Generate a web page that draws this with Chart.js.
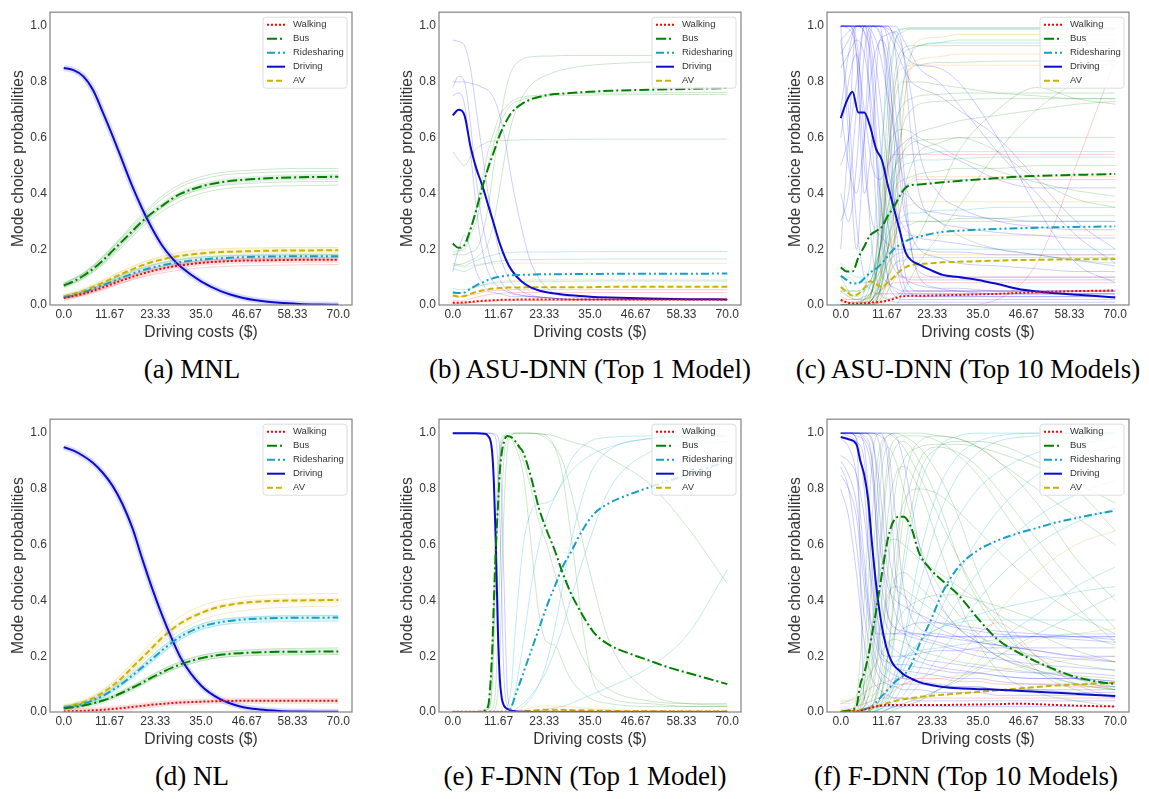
<!DOCTYPE html>
<html>
<head>
<meta charset="utf-8">
<script src="https://cdn.jsdelivr.net/npm/chart.js@4.4.1/dist/chart.umd.min.js"></script>
<style>
  body { margin: 0; background: #fff; width: 1149px; height: 799px; position: relative; overflow: hidden; }
  .panel { position: absolute; }
  .cap { position: absolute; width: 420px; text-align: center; font-family: "Liberation Serif", "DejaVu Serif", serif; font-size: 27px; line-height: 30px; color: #000; white-space: nowrap; }
</style>
</head>
<body>
<div class="panel" style="left:9px;top:2px"><canvas id="ca" width="351" height="340"></canvas></div>
<div class="panel" style="left:398px;top:2px"><canvas id="cb" width="351" height="340"></canvas></div>
<div class="panel" style="left:786px;top:2px"><canvas id="cc" width="351" height="340"></canvas></div>
<div class="panel" style="left:9px;top:409px"><canvas id="cd" width="351" height="340"></canvas></div>
<div class="panel" style="left:398px;top:409px"><canvas id="ce" width="351" height="340"></canvas></div>
<div class="panel" style="left:786px;top:409px"><canvas id="cf" width="351" height="340"></canvas></div>

<div class="cap" style="left:-18px;top:354px">(a) MNL</div>
<div class="cap" style="left:380px;top:354px">(b) ASU-DNN (Top 1 Model)</div>
<div class="cap" style="left:758px;top:354px">(c) ASU-DNN (Top 10 Models)</div>
<div class="cap" style="left:-18px;top:761px">(d) NL</div>
<div class="cap" style="left:375px;top:761px">(e) F-DNN (Top 1 Model)</div>
<div class="cap" style="left:756px;top:761px">(f) F-DNN (Top 10 Models)</div>

<script>
const modes = ['Walking', 'Bus', 'Ridesharing', 'Driving', 'AV'];
const xTickValues = [0, 11.67, 23.33, 35, 46.67, 58.33, 70];
const xTickLabels = ['0.0', '11.67', '23.33', '35.0', '46.67', '58.33', '70.0'];
const yTickValues = [0, 0.2, 0.4, 0.6, 0.8, 1.0];
const yTickLabels = ['0.0', '0.2', '0.4', '0.6', '0.8', '1.0'];

// (a) MNL
const aX = [0, 2.5, 5, 7.5, 10, 12.5, 15, 17.5, 20, 22.5, 25, 27.5, 30, 35, 40, 45, 50, 55, 60, 65, 70];
const aWalking = [.025, .032, .04, .051, .063, .076, .089, .101, .112, .122, .13, .137, .143, .151, .156, .159, .16, .161, .162, .162, .162];
const aBus = [.07, .085, .105, .13, .16, .195, .23, .265, .30, .33, .355, .38, .40, .425, .44, .448, .453, .456, .458, .459, .46];
const aRide = [.027, .035, .045, .058, .071, .085, .099, .112, .124, .134, .142, .149, .155, .163, .168, .171, .173, .174, .175, .175, .175];
const aDriving = [.85, .842, .82, .77, .69, .605, .515, .425, .345, .275, .215, .17, .135, .085, .05, .028, .015, .008, .004, .002, .001];
const aAV = [.03, .04, .05, .065, .08, .097, .113, .128, .142, .154, .163, .171, .177, .185, .19, .192, .194, .195, .195, .196, .196];
const aFaintX = [0, 5, 10, 15, 20, 25, 30, 35, 40, 50, 60, 70];
const aFaintBus = [
  [.078, .115, .175, .25, .325, .39, .435, .46, .475, .485, .49, .49],
  [.075, .112, .17, .245, .318, .38, .425, .45, .465, .475, .478, .48],
  [.066, .10, .15, .22, .29, .35, .39, .415, .428, .438, .442, .443],
  [.063, .095, .145, .21, .28, .335, .375, .40, .415, .425, .428, .43]
];
const aFaintAV = [
  [.033, .055, .088, .123, .153, .175, .19, .198, .202, .205, .206, .206],
  [.027, .045, .073, .103, .13, .15, .163, .17, .175, .178, .18, .18]
];
const aFaintRide = [
  [.029, .048, .077, .108, .134, .152, .165, .172, .176, .179, .18, .18],
  [.025, .042, .066, .092, .115, .132, .145, .152, .157, .16, .162, .163]
];
const aFaintWalking = [
  [.027, .043, .068, .096, .12, .138, .15, .158, .163, .167, .169, .17],
  [.022, .036, .057, .08, .10, .115, .126, .133, .138, .142, .144, .145]
];

// (b) ASU-DNN top 1
const bX = [0, 1.5, 3, 4.5, 6, 7.5, 9, 10.5, 12, 13.5, 15, 17.5, 20, 22.5, 25, 30, 35, 40, 50, 60, 70];
const bWalking = [.008, .008, .009, .011, .013, .015, .016, .017, .018, .019, .019, .02, .02, .02, .02, .02, .02, .02, .02, .02, .02];
const bBus = [.22, .205, .215, .27, .34, .42, .49, .55, .61, .655, .69, .72, .738, .748, .755, .76, .765, .768, .772, .775, .778];
const bRide = [.045, .043, .045, .058, .07, .08, .09, .097, .102, .105, .107, .108, .109, .11, .11, .111, .111, .112, .112, .112, .113];
const bDriving = [.68, .70, .68, .57, .49, .43, .36, .29, .22, .165, .125, .085, .062, .05, .043, .035, .03, .027, .023, .021, .02];
const bAV = [.035, .03, .032, .04, .047, .052, .056, .059, .061, .062, .063, .063, .064, .064, .064, .064, .064, .065, .065, .065, .065];
const bFaintX = [0, 1.5, 3, 4.5, 6, 7.5, 9, 10.5, 12, 13.5, 15, 17.5, 20, 25, 30, 40, 70];
const bFaintDriving = [
  [.95, .945, .93, .85, .70, .55, .40, .28, .18, .12, .08, .05, .035, .025, .02, .02, .02],
  [.78, .82, .80, .65, .45, .30, .20, .13, .09, .06, .045, .035, .03, .025, .02, .02, .02],
  [.80, .80, .80, .795, .79, .78, .77, .74, .68, .58, .45, .28, .15, .05, .03, .02, .02],
  [.75, .76, .72, .55, .35, .20, .12, .08, .06, .05, .04, .035, .03, .025, .02, .02, .02],
  [.12, .20, .25, .20, .12, .08, .05, .045, .04, .035, .03, .03, .03, .025, .02, .02, .02]
];
const bFaintBus = [
  [.55, .52, .50, .53, .56, .575, .585, .588, .59, .59, .591, .592, .593, .594, .594, .595, .595],
  [.18, .18, .18, .19, .20, .25, .35, .50, .65, .77, .84, .88, .89, .893, .895, .895, .895],
  [.14, .145, .15, .16, .17, .19, .22, .30, .42, .55, .65, .74, .79, .83, .85, .865, .875],
  [.19, .195, .20, .25, .30, .40, .50, .58, .65, .69, .72, .735, .745, .75, .752, .754, .755],
  [.18, .19, .22, .28, .35, .45, .55, .62, .68, .71, .73, .745, .75, .755, .758, .76, .762]
];
const bFaintRide = [
  [.15, .145, .14, .15, .16, .168, .175, .18, .185, .187, .188, .19, .19, .19, .191, .192, .192],
  [.13, .125, .12, .13, .14, .145, .15, .155, .158, .16, .162, .163, .163, .164, .164, .165, .165],
  [.06, .055, .055, .06, .065, .07, .075, .078, .08, .082, .083, .084, .085, .085, .085, .086, .086]
];
const bFaintAV = [
  [.145, .14, .135, .14, .145, .148, .15, .15, .15, .15, .15, .15, .15, .15, .15, .15, .15],
  [.05, .045, .045, .055, .065, .072, .078, .082, .085, .087, .088, .089, .09, .09, .09, .09, .09]
];
const bFaintWalking = [
  [.015, .015, .017, .022, .028, .033, .037, .04, .042, .043, .044, .045, .045, .045, .045, .045, .045],
  [.005, .005, .006, .008, .01, .012, .013, .014, .015, .015, .015, .016, .016, .016, .016, .016, .016],
  [.03, .03, .032, .036, .04, .045, .05, .052, .053, .054, .055, .055, .055, .055, .055, .055, .055]
];

// (c) ASU-DNN top 10
const cX = [0, 1.5, 3, 4.5, 6, 7.5, 9, 10.5, 12, 13.5, 15, 16.5, 18, 20, 23, 26, 30, 35, 40, 45, 50, 55, 60, 65, 70];
const cWalking = [.018, .01, .005, .005, .006, .008, .01, .012, .016, .022, .03, .032, .033, .033, .034, .035, .036, .038, .04, .043, .046, .048, .05, .051, .052];
const cBus = [.135, .12, .12, .17, .21, .25, .265, .28, .32, .35, .39, .42, .43, .432, .436, .44, .445, .45, .455, .46, .463, .465, .467, .468, .47];
const cRide = [.105, .09, .077, .078, .095, .117, .13, .15, .175, .20, .215, .228, .238, .245, .255, .262, .266, .27, .273, .275, .277, .279, .28, .281, .282];
const cDriving = [.67, .73, .765, .69, .69, .64, .56, .52, .43, .35, .27, .19, .16, .145, .125, .108, .10, .09, .075, .058, .048, .042, .037, .032, .027];
const cAV = [.065, .048, .033, .04, .06, .085, .075, .065, .08, .10, .12, .135, .143, .147, .15, .153, .155, .157, .159, .161, .162, .163, .164, .164, .165];
const cFaintX = [0, 2, 4, 6, 8, 10, 12, 14, 16, 18, 20, 25, 30, 40, 50, 60, 70];
const cFaintDriving = [
  [1, 1, .95, .6, .2, .05, .02, .01, .01, .01, .01, .01, .01, .01, .01, .01, .01],
  [1, 1, 1, .98, .85, .4, .1, .03, .02, .02, .02, .02, .02, .02, .02, .02, .02],
  [1, 1, 1, 1, 1, .98, .8, .3, .08, .04, .03, .03, .03, .03, .03, .03, .03],
  [.95, .7, .3, .1, .05, .04, .04, .04, .04, .04, .04, .04, .04, .04, .04, .04, .04],
  [.85, .9, .95, .9, .7, .4, .2, .12, .1, .09, .09, .09, .09, .09, .09, .09, .09],
  [1, 1, 1, 1, 1, 1, 1, .95, .9, .87, .86, .85, .8, .6, .35, .15, .08],
  [.6, .8, .9, .7, .5, .45, .5, .55, .58, .6, .58, .55, .52, .45, .42, .42, .42],
  [1, 1, 1, 1, .9, .6, .3, .15, .1, .08, .07, .06, .06, .05, .05, .05, .05],
  [.7, .9, 1, 1, 1, 1, .95, .7, .4, .2, .1, .06, .05, .04, .04, .04, .04],
  [1, .99, .9, .5, .3, .25, .22, .2, .2, .2, .2, .19, .19, .18, .18, .18, .18],
  [.5, .6, .8, 1, 1, 1, 1, 1, .95, .9, .85, .8, .72, .55, .4, .25, .15],
  [1, 1, 1, 1, 1, 1, .99, .97, .9, .75, .55, .4, .35, .3, .28, .27, .27],
  [.3, .4, .7, 1, 1, .97, .85, .6, .35, .25, .2, .17, .15, .14, .13, .12, .12],
  [.9, .95, 1, 1, .98, .9, .75, .6, .45, .38, .35, .33, .32, .31, .3, .3, .3],
  [1, .6, .2, .6, 1, 1, .7, .2, .05, .03, .03, .03, .03, .03, .03, .03, .03],
  [.2, .6, 1, 1, .8, .3, .1, .05, .04, .04, .04, .04, .04, .04, .04, .04, .04],
  [1, 1, .9, .4, .6, .95, .9, .5, .15, .06, .05, .05, .05, .05, .05, .05, .05],
  [.4, .3, .5, .9, 1, 1, 1, .9, .5, .2, .12, .1, .1, .1, .1, .1, .1],
  [1, 1, 1, 1, .95, .75, .5, .35, .28, .25, .24, .23, .22, .2, .18, .16, .14],
  [.95, .98, 1, .98, .6, .15, .08, .06, .05, .05, .05, .05, .05, .05, .05, .05, .05],
  [.7, .5, .4, .6, .85, .95, .97, .98, .9, .6, .4, .3, .28, .26, .25, .24, .24],
  [1, 1, 1, 1, 1, 1, .98, .92, .85, .8, .78, .75, .7, .6, .45, .3, .2]
];
const cFaintBus = [
  [0, 0, 0, .02, .1, .3, .7, .95, .99, .995, .995, .995, .995, .995, .995, .995, .995],
  [.05, .03, .02, .03, .05, .2, .5, .8, .9, .92, .93, .94, .95, .95, .95, .95, .95],
  [0, 0, .01, .02, .05, .2, .45, .65, .72, .74, .75, .755, .76, .76, .76, .76, .76],
  [.1, .05, .03, .05, .1, .2, .35, .5, .55, .58, .59, .595, .6, .6, .6, .6, .6],
  [0, 0, 0, 0, .02, .1, .3, .42, .45, .46, .47, .48, .49, .49, .5, .5, .5],
  [0, 0, 0, 0, 0, .05, .2, .4, .55, .6, .62, .64, .66, .68, .7, .72, .73],
  [0, 0, 0, 0, .01, .05, .15, .25, .28, .29, .3, .3, .31, .31, .32, .32, .32],
  [.02, .01, .01, .01, .02, .08, .3, .6, .8, .85, .86, .87, .87, .875, .875, .875, .875],
  [0, 0, 0, 0, 0, 0, 0, 0, .05, .1, .15, .25, .35, .55, .7, .8, .88],
  [0, 0, 0, 0, .05, .3, .55, .62, .63, .62, .6, .57, .53, .48, .44, .41, .39],
  [0, 0, 0, 0, 0, .05, .2, .35, .4, .38, .35, .3, .25, .2, .18, .16, .15],
  [0, 0, 0, .01, .05, .4, .9, .98, .99, .99, .99, .99, .99, .99, .99, .99, .99],
  [0, 0, 0, 0, .02, .15, .5, .75, .8, .8, .8, .79, .78, .76, .75, .74, .74],
  [0, 0, 0, 0, 0, .02, .1, .25, .4, .5, .55, .58, .6, .55, .45, .38, .35],
  [0, 0, 0, 0, .02, .08, .25, .5, .65, .7, .72, .73, .735, .74, .74, .74, .74],
  [0, 0, 0, .01, .05, .2, .6, .85, .92, .93, .93, .93, .93, .93, .93, .93, .93],
  [.05, .05, .05, .06, .08, .12, .2, .27, .3, .3, .3, .3, .3, .3, .3, .3, .3],
  [0, 0, 0, 0, 0, .01, .05, .1, .15, .2, .25, .4, .55, .7, .78, .74, .72]
];
const cFaintRide = [
  [0, 0, 0, .05, .2, .5, .8, .95, .98, .99, .99, .99, .99, .99, .99, .99, .99],
  [.1, .1, .08, .08, .1, .2, .35, .45, .5, .51, .52, .52, .525, .53, .53, .53, .53],
  [.05, .05, .05, .05, .08, .15, .25, .3, .32, .33, .33, .34, .34, .35, .35, .35, .35],
  [0, 0, 0, 0, .02, .08, .15, .18, .19, .2, .2, .2, .2, .2, .2, .2, .2],
  [0, 0, 0, 0, 0, .05, .2, .5, .8, .9, .93, .94, .94, .94, .94, .94, .94],
  [.15, .12, .1, .1, .12, .2, .3, .38, .42, .44, .45, .45, .45, .45, .45, .45, .45],
  [0, 0, 0, 0, .01, .04, .1, .15, .16, .17, .17, .17, .17, .17, .17, .17, .17],
  [0, 0, 0, .02, .06, .2, .4, .5, .53, .54, .54, .55, .55, .55, .55, .55, .55]
];
const cFaintAV = [
  [0, 0, 0, 0, 0, .1, .5, .8, .85, .86, .86, .86, .86, .86, .86, .86, .86],
  [.05, .03, .02, .02, .05, .1, .2, .3, .35, .36, .37, .37, .37, .37, .37, .37, .37],
  [0, 0, 0, 0, .02, .05, .1, .15, .17, .18, .18, .18, .18, .18, .18, .18, .18],
  [0, 0, 0, 0, 0, .02, .1, .4, .7, .9, .95, .96, .97, .97, .97, .97, .97],
  [.02, .02, .02, .03, .05, .1, .2, .24, .25, .25, .25, .25, .25, .25, .25, .25, .25],
  [0, 0, 0, 0, .01, .03, .1, .25, .4, .45, .46, .46, .46, .46, .46, .46, .46],
  [0, 0, 0, 0, 0, 0, .05, .3, .7, .85, .88, .89, .9, .9, .9, .9, .9]
];
const cFaintWalking = [
  [0, 0, 0, 0, 0, .01, .02, .03, .05, .05, .05, .05, .05, .05, .05, .05, .05],
  [0, 0, 0, 0, 0, 0, 0, 0, 0, 0, 0, 0, 0, .02, .15, .5, .88],
  [0, 0, 0, .02, .05, .2, .5, .54, .54, .54, .54, .54, .54, .54, .54, .54, .54],
  [.01, .01, .01, .01, .02, .05, .08, .1, .1, .1, .1, .1, .1, .1, .1, .1, .1],
  [.03, .02, .02, .02, .03, .05, .07, .08, .08, .08, .08, .08, .08, .08, .08, .08, .08]
];

// (d) NL
const dX = aX;
const dWalking = [.002, .003, .004, .006, .008, .011, .014, .018, .022, .026, .029, .032, .034, .037, .039, .04, .04, .04, .04, .04, .04];
const dBus = [.013, .017, .023, .031, .041, .054, .07, .087, .105, .124, .142, .158, .172, .193, .205, .211, .214, .216, .216, .217, .217];
const dRide = [.015, .021, .03, .042, .058, .079, .103, .131, .16, .19, .22, .248, .272, .305, .322, .331, .335, .337, .338, .338, .339];
const dDriving = [.95, .937, .918, .893, .857, .81, .745, .66, .55, .445, .35, .265, .19, .095, .045, .02, .009, .004, .002, .001, .0005];
const dAV = [.018, .025, .035, .05, .07, .095, .125, .16, .195, .23, .265, .295, .32, .355, .378, .39, .396, .399, .40, .401, .402];
const dFaintX = aFaintX;
const dFaintAV = [
  [.02, .04, .078, .14, .215, .29, .345, .38, .40, .418, .423, .425],
  [.016, .032, .064, .115, .18, .245, .295, .33, .35, .37, .377, .38]
];
const dFaintRide = [
  [.016, .032, .06, .108, .168, .232, .282, .315, .332, .342, .345, .346],
  [.014, .028, .054, .098, .152, .21, .262, .295, .312, .322, .325, .326]
];
const dFaintBus = [
  [.014, .025, .044, .074, .112, .152, .182, .203, .215, .225, .228, .23],
  [.012, .021, .038, .066, .10, .135, .163, .183, .195, .203, .205, .206]
];

// (e) F-DNN top 1
const eX = [0, 2, 4, 6, 8, 9, 10, 10.5, 11, 11.5, 12, 12.5, 13, 13.5, 14, 15, 16, 17, 18, 20, 22, 24, 26, 28, 30, 33, 36, 40, 45, 50, 55, 60, 65, 70];
const eWalking = [.001, .001, .001, .001, .001, .001, .001, .001, .001, .001, .001, .001, .001, .001, .001, .001, .001,
  .001, .001, .001, .001, .001, .001, .001, .001, .001, .001, .001, .001, .001, .001, .001, .001, .001];
const eBus = [0, 0, 0, 0, .005, .02, .2, .4, .59, .73, .86, .93, .965, .985, .99, .985, .97, .95, .93, .84,
  .73, .65, .58, .5, .43, .35, .285, .24, .21, .185, .16, .14, .12, .10];
const eRide = [0, 0, 0, 0, 0, 0, 0, 0, 0, 0, 0, 0, 0, 0, 0, .02, .06, .1, .14, .22,
  .3, .38, .45, .52, .57, .65, .71, .75, .78, .805, .83, .85, .875, .90];
const eDriving = [1, 1, 1, 1, .998, .99, .94, .82, .6, .3, .12, .05, .025, .015, .01, .005, .003, .001, .001, 0,
  0, 0, 0, 0, 0, 0, 0, 0, 0, 0, 0, 0, 0, 0];
const eAV = [0, 0, 0, 0, 0, 0, 0, 0, 0, 0, 0, 0, 0, 0, 0, 0, 0, 0, .002, .005,
  .007, .008, .008, .008, .007, .006, .005, .004, .003, .003, .002, .002, .002, .002];
const eFaintX = [0, 6, 9, 10, 11, 12, 13, 14, 15, 16, 18, 20, 22, 24, 26, 28, 30, 35, 40, 50, 60, 70];
const eFaintDriving = [
  [1, 1, 1, .998, .98, .7, .15, .02, .005, 0, 0, 0, 0, 0, 0, 0, 0, 0, 0, 0, 0, 0],
  [1, 1, 1, 1, .995, .95, .5, .06, .01, 0, 0, 0, 0, 0, 0, 0, 0, 0, 0, 0, 0, 0]
];
const eFaintBus = [
  [0, 0, .01, .1, .55, .9, .985, .998, 1, 1, 1, .999, .998, .995, .99, .98, .97, .95, .91, .82, .66, .46],
  [0, 0, 0, .01, .1, .5, .9, .98, .995, 1, 1, 1, .998, .99, .95, .85, .65, .15, .05, .03, .02, .02],
  [0, 0, .02, .2, .7, .95, .99, .99, .98, .95, .85, .6, .35, .25, .24, .18, .12, .05, .03, .02, .02, .02],
  [0, 0, .01, .08, .5, .9, .98, .99, .985, .97, .9, .8, .68, .6, .5, .4, .3, .15, .08, .04, .03, .03],
  [0, 0, 0, 0, .02, .2, .7, .95, .99, 1, 1, 1, .995, .98, .95, .9, .8, .5, .25, .07, .03, .025]
];
const eFaintRide = [
  [0, 0, 0, 0, 0, 0, 0, .02, .1, .3, .6, .72, .745, .75, .77, .83, .9, .97, .985, .99, .99, .99],
  [0, 0, 0, 0, 0, 0, 0, 0, .02, .08, .25, .45, .6, .7, .77, .82, .86, .92, .95, .98, .985, .99],
  [0, 0, 0, 0, 0, 0, 0, 0, 0, .01, .03, .06, .1, .15, .22, .3, .4, .62, .8, .93, .96, .97],
  [0, 0, 0, 0, 0, 0, 0, 0, 0, 0, 0, 0, .005, .01, .015, .02, .03, .06, .09, .16, .28, .51],
  [0, 0, 0, 0, 0, 0, 0, 0, 0, 0, .02, .05, .1, .18, .3, .45, .6, .85, .94, .98, .99, .99]
];
const eFaintAV = [
  [0, 0, 0, 0, 0, 0, 0, 0, 0, .002, .008, .015, .02, .022, .022, .02, .018, .012, .008, .005, .004, .003]
];

// (f) F-DNN top 10
const fX = [0, 2, 4, 5, 6, 7, 8, 9, 10, 11, 12, 13, 14, 15, 16, 18, 20, 23, 26, 30, 35, 40, 45, 50, 55, 60, 65, 70];
const fWalking = [0, .001, .003, .005, .008, .012, .016, .02, .022, .024, .025, .025, .025, .025, .025,
  .025, .025, .025, .025, .026, .027, .028, .03, .028, .025, .023, .021, .02];
const fBus = [0, .005, .02, .1, .14, .2, .28, .36, .45, .54, .62, .67, .695, .70, .70,
  .66, .57, .51, .47, .42, .335, .26, .215, .18, .15, .125, .11, .10];
const fRide = [0, 0, .002, .005, .01, .015, .022, .035, .05, .065, .08, .095, .11, .12, .13,
  .17, .24, .33, .43, .52, .58, .615, .64, .66, .68, .695, .71, .722];
const fDriving = [.986, .978, .96, .9, .85, .76, .6, .46, .35, .27, .215, .18, .16, .148, .135,
  .12, .107, .097, .09, .085, .082, .08, .076, .073, .069, .065, .061, .057];
const fAV = [.003, .004, .006, .008, .01, .013, .017, .02, .024, .028, .032, .036, .04, .043, .046,
  .05, .054, .058, .062, .066, .072, .078, .084, .09, .095, .099, .102, .105];
const fFaintX = [0, 2, 4, 6, 8, 10, 12, 14, 16, 20, 25, 30, 35, 40, 50, 60, 70];
const fFaintDriving = [
  [1, 1, 1, .95, .6, .25, .18, .16, .15, .14, .13, .12, .12, .11, .1, .1, .09],
  [1, 1, .98, .8, .4, .2, .15, .13, .12, .11, .1, .09, .09, .08, .08, .07, .07],
  [.88, .8, .6, .35, .2, .12, .1, .09, .08, .08, .07, .07, .07, .06, .06, .06, .06],
  [1, 1, 1, 1, .98, .7, .35, .3, .29, .28, .27, .26, .25, .24, .22, .2, .18],
  [.9, .85, .75, .5, .3, .28, .28, .28, .28, .28, .27, .27, .27, .27, .27, .27, .27],
  [1, 1, 1, 1, 1, .95, .6, .45, .42, .35, .3, .27, .25, .24, .22, .2, .2],
  [1, .99, .97, .9, .5, .22, .2, .2, .2, .21, .22, .22, .23, .23, .23, .23, .23],
  [.8, .7, .5, .25, .12, .08, .06, .05, .05, .04, .04, .04, .04, .04, .04, .04, .04],
  [1, 1, 1, 1, 1, 1, .9, .5, .3, .2, .18, .17, .16, .15, .14, .14, .13],
  [1, 1, 1, .98, .9, .6, .45, .4, .38, .35, .32, .3, .29, .28, .27, .26, .25],
  [.92, .9, .85, .7, .45, .3, .25, .22, .2, .18, .16, .15, .14, .13, .12, .12, .11],
  [1, 1, .99, .97, .85, .5, .35, .3, .28, .26, .24, .22, .2, .19, .17, .16, .15],
  [1, 1, .98, .05, .02, .02, .02, .02, .02, .02, .02, .02, .02, .02, .02, .02, .02],
  [1, 1, 1, 1, .97, .8, .5, .35, .3, .27, .25, .23, .22, .21, .2, .19, .18],
  [.98, .95, .85, .55, .3, .2, .18, .17, .17, .16, .15, .14, .14, .13, .12, .12, .11],
  [1, 1, 1, 1, 1, .99, .95, .7, .45, .3, .28, .27, .27, .27, .27, .27, .27],
  [.85, .8, .7, .45, .25, .15, .12, .1, .1, .1, .09, .09, .09, .08, .08, .08, .08],
  [1, 1, 1, .99, .9, .45, .3, .28, .3, .32, .32, .31, .3, .29, .28, .27, .26],
  [1, 1, 1, 1, 1, 1, 1, .99, .9, .6, .4, .3, .25, .2, .15, .12, .1]
];
const fFaintBus = [
  [0, 0, .05, .4, .9, 1, 1, .98, .95, .85, .7, .55, .42, .32, .2, .12, .08],
  [0, 0, 0, .1, .5, .9, .99, 1, .99, .95, .85, .7, .5, .35, .15, .08, .05],
  [0, 0, 0, .05, .2, .6, .9, .98, .99, .99, .97, .92, .85, .75, .55, .38, .25],
  [0, 0, 0, 0, .05, .3, .7, .85, .88, .8, .6, .4, .25, .15, .07, .04, .02],
  [0, 0, .02, .1, .3, .5, .6, .62, .6, .55, .5, .45, .4, .35, .28, .22, .18],
  [0, 0, 0, 0, 0, .05, .2, .45, .7, .9, .95, .93, .88, .8, .62, .45, .3],
  [0, 0, 0, .02, .1, .25, .4, .48, .5, .45, .38, .3, .25, .2, .14, .1, .08],
  [0, 0, 0, 0, .02, .1, .35, .6, .75, .8, .78, .72, .65, .58, .45, .35, .28],
  [.03, .04, .06, .1, .15, .2, .25, .26, .25, .22, .2, .18, .17, .16, .14, .13, .12],
  [0, 0, 0, .2, .7, .95, .99, 1, 1, 1, .99, .98, .95, .9, .8, .7, .6],
  [0, 0, 0, 0, .02, .15, .5, .8, .9, .95, .96, .96, .95, .93, .88, .82, .75],
  [0, 0, .01, .05, .15, .3, .42, .45, .44, .4, .35, .3, .27, .24, .2, .17, .15],
  [0, 0, 0, 0, .01, .05, .2, .5, .8, .97, .99, .98, .95, .9, .75, .55, .4],
  [0, 0, 0, .05, .3, .8, .95, .9, .8, .6, .45, .35, .28, .22, .15, .1, .08],
  [0, 0, 0, 0, 0, .02, .1, .3, .55, .85, .95, .97, .97, .96, .9, .8, .65],
  [0, 0, 0, .02, .15, .55, .85, .95, .97, .9, .75, .55, .4, .3, .18, .12, .09],
  [0, 0, 0, 0, .02, .1, .2, .3, .36, .4, .42, .42, .4, .38, .33, .28, .24]
];
const fFaintRide = [
  [0, 0, 0, 0, .01, .03, .08, .15, .25, .45, .7, .85, .93, .97, .99, 1, 1],
  [0, 0, 0, 0, 0, .01, .02, .05, .1, .2, .35, .5, .62, .72, .85, .92, .95],
  [0, 0, 0, 0, 0, 0, .01, .02, .04, .1, .2, .3, .4, .48, .6, .68, .73],
  [0, 0, 0, 0, 0, 0, 0, .01, .02, .04, .08, .12, .18, .25, .35, .45, .52],
  [0, 0, 0, 0, .01, .02, .05, .1, .18, .35, .55, .7, .8, .86, .93, .96, .98],
  [0, 0, 0, 0, 0, .01, .03, .08, .15, .25, .3, .32, .33, .33, .33, .33, .33],
  [0, 0, 0, 0, .01, .05, .15, .3, .5, .8, .95, .99, 1, 1, 1, 1, 1],
  [0, 0, 0, 0, 0, 0, .01, .02, .03, .05, .08, .11, .15, .2, .28, .35, .42],
  [0, 0, 0, .02, .05, .1, .15, .18, .2, .22, .23, .24, .25, .26, .27, .28, .28],
  [0, 0, 0, 0, 0, .01, .04, .12, .25, .55, .8, .92, .97, .99, 1, 1, 1],
  [0, 0, 0, 0, 0, 0, .01, .03, .06, .15, .28, .4, .5, .58, .7, .78, .83],
  [0, 0, 0, 0, 0, .02, .06, .12, .18, .25, .3, .33, .35, .37, .4, .43, .45]
];
const fFaintAV = [
  [.03, .03, .04, .05, .06, .07, .08, .09, .1, .11, .12, .13, .14, .15, .17, .19, .2],
  [0, 0, 0, 0, 0, 0, .01, .02, .03, .05, .08, .12, .16, .2, .26, .28, .3],
  [0, 0, 0, 0, 0, 0, 0, .01, .02, .04, .08, .14, .22, .35, .5, .6, .65]
];
const fFaintWalking = [
  [.04, .04, .05, .07, .09, .1, .11, .12, .12, .12, .12, .11, .11, .1, .1, .09, .09],
  [0, 0, 0, .01, .02, .04, .06, .08, .1, .12, .15, .2, .28, .32, .2, .1, .05],
  [.01, .01, .02, .03, .04, .05, .05, .05, .05, .05, .05, .05, .05, .05, .05, .05, .05]
];

const mainStyle = {
  Walking: { color: '#ff0000', dash: [2, 2] },
  Bus: { color: '#008000', dash: [10, 3, 2, 3] },
  Ridesharing: { color: '#169fc6', dash: [8, 3, 2, 3, 2, 3] },
  Driving: { color: '#0b0bd0', dash: [] },
  AV: { color: '#c9b200', dash: [6, 3] }
};
const faintColor = {
  Walking: 'rgba(255, 0, 0, 0.2)',
  Bus: 'rgba(0, 128, 0, 0.2)',
  Ridesharing: 'rgba(0, 175, 205, 0.25)',
  Driving: 'rgba(0, 0, 255, 0.2)',
  AV: 'rgba(230, 165, 30, 0.25)'
};
const haloColor = {
  Walking: 'rgba(255, 0, 0, 0.13)',
  Bus: 'rgba(0, 128, 0, 0.12)',
  Ridesharing: 'rgba(0, 175, 205, 0.14)',
  Driving: 'rgba(0, 0, 255, 0.14)',
  AV: 'rgba(220, 180, 0, 0.14)'
};

const FONT = '"Liberation Sans", Arial, sans-serif';

function pts(xs, ys) {
  return xs.map((x, i) => ({ x: x, y: ys[i] }));
}

function lineSet(label, xs, ys, color, width, dash, isMain) {
  return {
    label: label,
    data: pts(xs, ys),
    borderColor: color,
    borderWidth: width,
    borderDash: dash,
    pointRadius: 0,
    fill: false,
    cubicInterpolationMode: 'monotone',
    isMain: isMain
  };
}

const framePlugin = {
  id: 'frameAndLegend',
  afterDraw(chart) {
    const { ctx, chartArea: a } = chart;
    ctx.save();
    ctx.strokeStyle = '#8c8c8c';
    ctx.lineWidth = 1.3;
    ctx.strokeRect(a.left, a.top, a.right - a.left, a.bottom - a.top);

    const bw = 84, bh = 71;
    const bx = a.right - 5 - bw, by = a.top + 5;
    ctx.beginPath();
    ctx.roundRect(bx, by, bw, bh, 3);
    ctx.fillStyle = 'rgba(255, 255, 255, 0.8)';
    ctx.fill();
    ctx.strokeStyle = '#dcdcdc';
    ctx.lineWidth = 1;
    ctx.stroke();

    const mains = chart.data.datasets.filter(d => d.isMain);
    mains.forEach((d, i) => {
      const y = by + 7.5 + i * 14;
      ctx.setLineDash(d.borderDash);
      ctx.strokeStyle = d.borderColor;
      ctx.lineWidth = d.borderWidth;
      ctx.beginPath();
      ctx.moveTo(bx + 4, y);
      ctx.lineTo(bx + 22, y);
      ctx.stroke();
      ctx.setLineDash([]);
      ctx.fillStyle = '#333';
      ctx.font = '9.5px ' + FONT;
      ctx.textBaseline = 'middle';
      ctx.textAlign = 'left';
      ctx.fillText(d.label, bx + 30, y);
    });
    ctx.restore();
  }
};

function drawPanel(canvasId, xs, seriesList, faintX, faintByMode, halo) {
  const datasets = [];
  modes.forEach((m, i) => {
    datasets.push(lineSet(m, xs, seriesList[i], mainStyle[m].color, 2, mainStyle[m].dash, true));
  });
  if (halo) {
    modes.forEach((m, i) => {
      datasets.push(lineSet(m + ' band', xs, seriesList[i], haloColor[m], 6, [], false));
    });
  }
  Object.keys(faintByMode).forEach(m => {
    faintByMode[m].forEach(ys => {
      datasets.push(lineSet(m + ' model', faintX, ys, faintColor[m], 1, [], false));
    });
  });

  new Chart(document.getElementById(canvasId), {
    type: 'line',
    data: { datasets: datasets },
    plugins: [framePlugin],
    options: {
      responsive: false,
      animation: false,
      layout: { padding: { top: 4, right: 8, left: 0, bottom: 0 } },
      plugins: { legend: { display: false }, tooltip: { enabled: false } },
      scales: {
        x: {
          type: 'linear',
          min: -3.5,
          max: 73.5,
          grid: { display: false, drawTicks: false },
          border: { display: false },
          afterBuildTicks: s => { s.ticks = xTickValues.map(v => ({ value: v })); },
          afterFit: s => { s.height = 37; },
          ticks: {
            autoSkip: false,
            maxRotation: 0,
            padding: 2,
            color: '#333',
            font: { family: FONT, size: 12 },
            callback: (v, i) => xTickLabels[i]
          },
          title: { display: true, text: 'Driving costs ($)', color: '#333', font: { family: FONT, size: 15.7 }, padding: 0 }
        },
        y: {
          type: 'linear',
          min: 0,
          max: 1.05,
          grid: { display: false, drawTicks: false },
          border: { display: false },
          afterBuildTicks: s => { s.ticks = yTickValues.map(v => ({ value: v })); },
          afterFit: s => { s.width = 41; },
          ticks: {
            padding: 3,
            color: '#333',
            font: { family: FONT, size: 12 },
            callback: (v, i) => yTickLabels[i]
          },
          title: { display: true, text: 'Mode choice probabilities', color: '#333', font: { family: FONT, size: 15.7 }, padding: 0 }
        }
      }
    }
  });
}

drawPanel('ca', aX, [aWalking, aBus, aRide, aDriving, aAV], aFaintX,
  { Bus: aFaintBus, AV: aFaintAV, Ridesharing: aFaintRide, Walking: aFaintWalking }, true);
drawPanel('cb', bX, [bWalking, bBus, bRide, bDriving, bAV], bFaintX,
  { Driving: bFaintDriving, Bus: bFaintBus, Ridesharing: bFaintRide, AV: bFaintAV, Walking: bFaintWalking }, false);
drawPanel('cc', cX, [cWalking, cBus, cRide, cDriving, cAV], cFaintX,
  { Driving: cFaintDriving, Bus: cFaintBus, Ridesharing: cFaintRide, AV: cFaintAV, Walking: cFaintWalking }, false);
drawPanel('cd', dX, [dWalking, dBus, dRide, dDriving, dAV], dFaintX,
  { AV: dFaintAV, Ridesharing: dFaintRide, Bus: dFaintBus }, true);
drawPanel('ce', eX, [eWalking, eBus, eRide, eDriving, eAV], eFaintX,
  { Driving: eFaintDriving, Bus: eFaintBus, Ridesharing: eFaintRide, AV: eFaintAV }, false);
drawPanel('cf', fX, [fWalking, fBus, fRide, fDriving, fAV], fFaintX,
  { Driving: fFaintDriving, Bus: fFaintBus, Ridesharing: fFaintRide, AV: fFaintAV, Walking: fFaintWalking }, false);
</script>
</body>
</html>
